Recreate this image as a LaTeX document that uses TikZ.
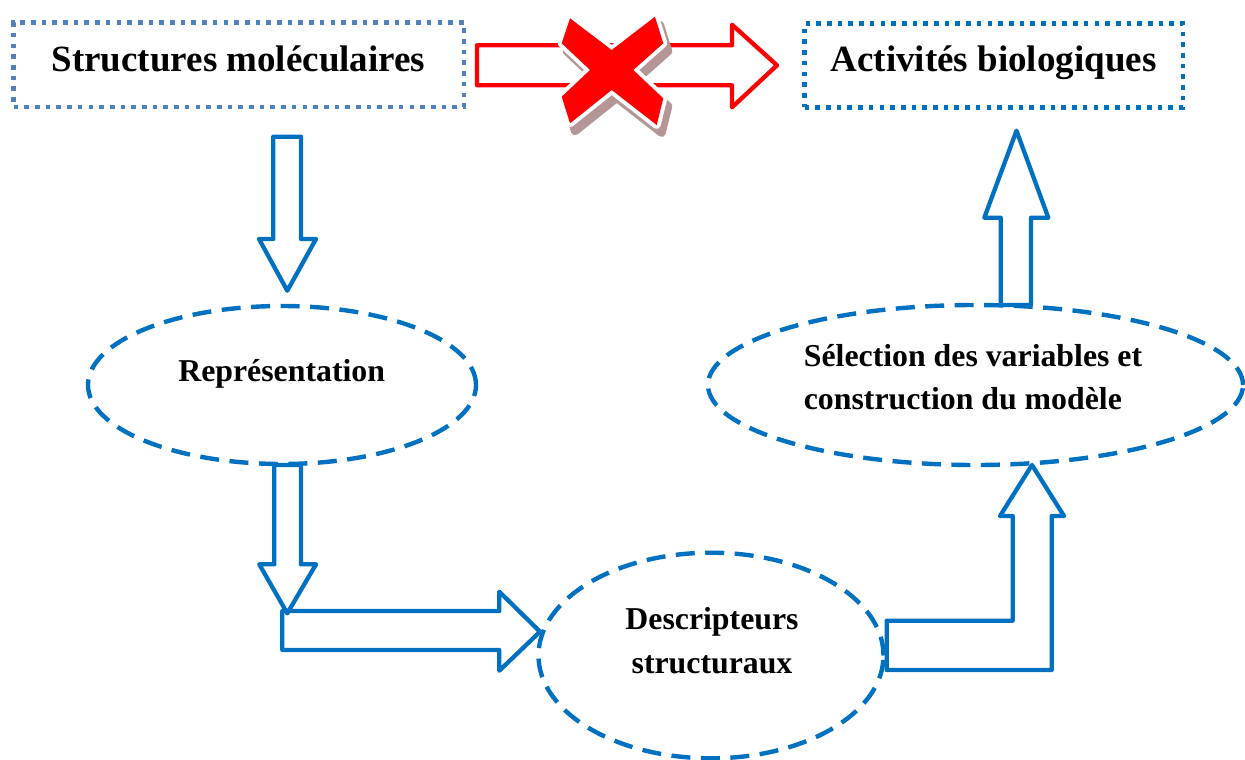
\documentclass[tikz,border=0pt]{standalone}
\usepackage{fontspec}
\setmainfont{Liberation Serif}
\usetikzlibrary{shapes.geometric}
\definecolor{mblue}{HTML}{0070C0}
\definecolor{sblue}{HTML}{4F81BD}
\definecolor{xshadow}{HTML}{B49696}
\definecolor{xred}{HTML}{FF0000}
\begin{document}
\begin{tikzpicture}[x=1pt,y=-1pt,
  bigtxt/.style={font=\fontsize{37}{44}\selectfont\bfseries, inner sep=0pt},
  midtxt/.style={font=\fontsize{31.8}{43.5}\selectfont\bfseries, inner sep=0pt},
  dotbox/.style={draw, line width=4.6pt, dash pattern=on 4.6pt off 6.1pt, inner sep=0pt},
  dashell/.style={ellipse, draw=mblue, line width=4.4pt, dash pattern=on 19pt off 10.5pt, inner sep=0pt},
  blockarrow/.style={draw=mblue, line width=4.3pt, line join=round},
  redarrow/.style={draw=xred, line width=4.3pt, line join=round, fill=white},
]
\useasboundingbox (0,0) rectangle (1245,760);

% boxes
\node[dotbox, draw=sblue, minimum width=450.3pt, minimum height=84.3pt] (box1) at (238.8,64.8) {};
\node[dotbox, draw=mblue, minimum width=378.3pt, minimum height=83.6pt] (box2) at (993.8,65.5) {};
\node[bigtxt, anchor=base] (t1) at (238.5,72) {Structures moléculaires};
\node[bigtxt, anchor=base] (t2) at (993.5,72) {Activités biologiques};

% ellipses
\node[dashell, minimum width=388pt, minimum height=158pt] (rep) at (282,385) {};
\node[dashell, minimum width=345pt, minimum height=205.6pt] (des) at (711,655.5) {};
\node[dashell, minimum width=535pt, minimum height=160pt] (sel) at (975.5,385) {};
\node[midtxt, anchor=base] (repT) at (281.7,381.7) {Représentation};
\node[midtxt, align=left] (selT) at (973,377.2) {Sélection des variables et\\construction du modèle};
\node[midtxt, align=center] (desT) at (712,640.5) {Descripteurs\\structuraux};

% red arrow (no link)
\draw[redarrow] (477,45.3) -- (732,45.3) -- (732,24.7) -- (777,65.3) -- (732,107.3) -- (732,85.3) -- (477,85.3) -- cycle;

% red cross
\def\crosspath{(570,18.3) -- (611.7,50) -- (655,16.7) -- (663.3,43.3) -- (633.3,70) -- (663.3,98.3) -- (656.7,125) -- (611.7,90) -- (570,123.3) -- (561.7,96.7) -- (590,70) -- (561.7,43.3) -- cycle}
\filldraw[xshadow, line width=8pt, line join=round, shift={(5,8)}] \crosspath;
\filldraw[draw=white, fill=white, line width=8pt, line join=round] \crosspath;
\fill[xred] \crosspath;

% blue block arrows
\draw[blockarrow] (273.3,136.7) -- (301,136.7) -- (301,239) -- (316,239) -- (287.3,290.7) -- (259,239) -- (273.3,239) -- cycle;
\draw[blockarrow] (274.3,465) -- (301,465) -- (301,564.3) -- (316,564.3) -- (287.3,613.3) -- (259.3,564.3) -- (274.3,564.3) -- cycle;
\draw[blockarrow] (282.3,611) -- (499.3,611) -- (499.3,591.7) -- (540,631.7) -- (499.3,670.7) -- (499.3,650) -- (282.3,650) -- cycle;
\draw[blockarrow] (886.7,620.7) -- (1012.7,620.7) -- (1012.7,516) -- (1000,516) -- (1032,465) -- (1064,516) -- (1051.7,516) -- (1051.7,670) -- (886.7,670) -- cycle;
\draw[blockarrow] (1000.7,305) -- (1031,305) -- (1031,217.7) -- (1048.3,217.7) -- (1016.5,130.7) -- (984.3,217.7) -- (1000.7,217.7) -- cycle;
\end{tikzpicture}
\end{document}
